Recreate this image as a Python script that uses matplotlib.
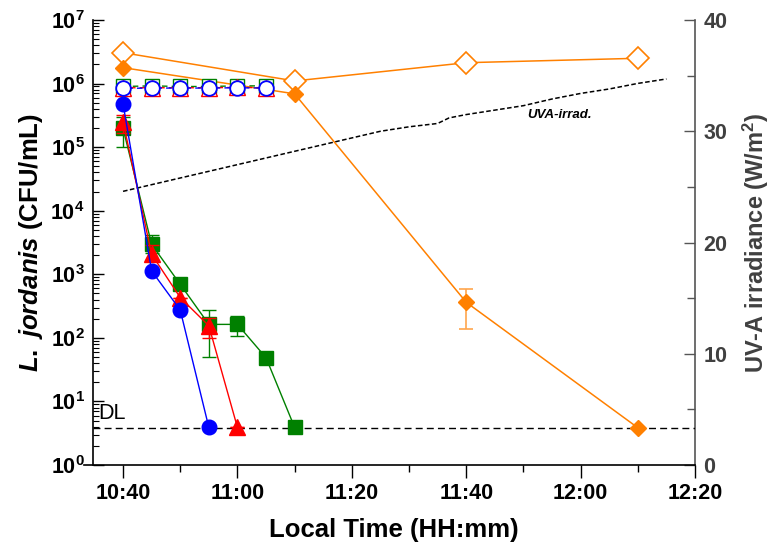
import matplotlib
matplotlib.use("Agg")
import matplotlib.pyplot as plt
from matplotlib.ticker import FixedLocator, FuncFormatter, LogLocator, NullFormatter, MultipleLocator
import numpy as np

plt.rcParams['font.family'] = ['Liberation Sans', 'DejaVu Sans']
plt.rcParams['mathtext.fontset'] = 'custom'
plt.rcParams['mathtext.rm'] = 'Liberation Sans:bold'
plt.rcParams['mathtext.it'] = 'Liberation Sans:italic:bold'
plt.rcParams['mathtext.bf'] = 'Liberation Sans:bold'

# ---------------- data ----------------
t_open = ["10:40", "10:45", "10:50", "10:55", "11:00", "11:05"]
green_open = [9.0e5, 9.2e5, 9.0e5, 9.0e5, 9.2e5, 9.2e5]
red_open = [8.6e5, 8.6e5, 8.6e5, 8.6e5, 8.7e5, 8.6e5]
blue_open = [8.4e5, 8.5e5, 8.5e5, 8.5e5, 8.6e5, 8.5e5]

t_blue = ["10:40", "10:45", "10:50", "10:55"]
blue_fill = [4.8e5, 1.13e3, 2.74e2, 3.9]

t_red = ["10:40", "10:45", "10:50", "10:55", "11:00"]
red_fill = [2.5e5, 2.06e3, 4.3e2, 1.55e2, 3.9]
red_lo = [1.66e5, 1.66e3, 4.3e2, 1.0e2, 3.9]
red_hi = [3.2e5, 2.9e3, 4.3e2, 2.04e2, 3.9]

t_green = ["10:40", "10:45", "10:50", "10:55", "11:00", "11:05", "11:10"]
green_fill = [1.98e5, 2.95e3, 6.95e2, 1.63e2, 1.63e2, 48.7, 3.9]
green_lo = [1.0e5, 2.2e3, 6.95e2, 50, 108, 48.7, 3.9]
green_hi = [2.96e5, 4.2e3, 6.95e2, 276, 221, 48.7, 3.9]

t_orange = ["10:40", "11:10", "11:40", "12:10"]
orange_open = [3.06e6, 1.1e6, 2.13e6, 2.5e6]
orange_fill = [1.78e6, 6.9e5, 3.63e2, 3.86]
orange_lo = [1.78e6, 6.9e5, 138, 3.86]
orange_hi = [1.78e6, 6.9e5, 581, 3.86]

t_uva = ["10:40", "10:45", "10:50", "10:55", "11:00", "11:05", "11:10", "11:15",
         "11:20", "11:25", "11:30", "11:35", "11:37", "11:40", "11:45", "11:50",
         "11:55", "12:00", "12:05", "12:10", "12:15"]
uva = [24.6, 25.2, 25.8, 26.4, 27.0, 27.6, 28.2, 28.8,
       29.4, 30.0, 30.4, 30.7, 31.2, 31.5, 31.9, 32.3,
       32.9, 33.4, 33.8, 34.3, 34.7]

DL = 3.8
x_ticks = ["10:40", "11:00", "11:20", "11:40", "12:00", "12:20"]

T0 = 10 * 60 + 40


def mins(ts):
    return np.array([int(s.split(":")[0]) * 60 + int(s.split(":")[1]) - T0 for s in ts], float)


def fmt_time(v, pos=None):
    m = int(round(v)) + T0
    return "%d:%02d" % (m // 60, m % 60)


# ---------------- figure ----------------
fig = plt.figure(figsize=(7.79, 5.54), dpi=100)
ax = fig.add_axes([0.1194, 0.1606, 0.7728, 0.8033])
ax2 = ax.twinx()
ax.set_zorder(2)
ax.patch.set_visible(False)

ORANGE = "#ff8000"
BLUE = "#0000ff"
RED = "#ff0000"
GREEN = "#008000"

# detection limit
ax.axhline(DL, color="black", lw=1.0, ls=(0, (5, 3)), zorder=1)
ax.text(-4.3, 4.4, "DL", fontsize=15.5, ha="left", va="bottom")

# orange series
ax.plot(mins(t_orange), orange_open, color=ORANGE, lw=1.1, marker="D", ms=11,
        mfc="white", mec=ORANGE, mew=1.2, zorder=3)
of = np.array(orange_fill)
ax.errorbar(mins(t_orange), orange_fill,
            yerr=[of - np.array(orange_lo), np.array(orange_hi) - of],
            color=ORANGE, lw=1.1, marker="D", ms=8.5, mfc=ORANGE, mec=ORANGE,
            ecolor="#ffa64d", elinewidth=1.2, capsize=5, capthick=1.2, zorder=3)

# open series (dashed)
ax.plot(mins(t_open), green_open, color=GREEN, lw=1.0, ls=(0, (4, 3)), marker="s", ms=10,
        mfc="white", mec=GREEN, mew=1.0, zorder=4)
ax.plot(mins(t_open), red_open, color=RED, lw=1.0, ls=(2, (4, 3)), marker="^", ms=11,
        mfc="white", mec=RED, mew=1.0, zorder=5)
ax.plot(mins(t_open), blue_open, color=BLUE, lw=1.0, ls=(4, (4, 3)), marker="o", ms=10.5,
        mfc="white", mec=BLUE, mew=1.3, zorder=6)

# filled series
gf = np.array(green_fill)
ax.errorbar(mins(t_green), green_fill,
            yerr=[gf - np.array(green_lo), np.array(green_hi) - gf],
            color=GREEN, lw=1.0, marker="s", ms=9.5, mfc=GREEN, mec=GREEN,
            ecolor=GREEN, elinewidth=1.0, capsize=5, capthick=1.0, zorder=7)
rf = np.array(red_fill)
ax.errorbar(mins(t_red), red_fill,
            yerr=[rf - np.array(red_lo), np.array(red_hi) - rf],
            color=RED, lw=1.0, marker="^", ms=11.5, mfc=RED, mec=RED,
            ecolor=RED, elinewidth=1.0, capsize=5, capthick=1.0, zorder=8)
ax.plot(mins(t_blue), blue_fill, color=BLUE, lw=1.0, marker="o", ms=10.5,
        mfc=BLUE, mec=BLUE, zorder=9)

# UVA irradiance
ax2.plot(mins(t_uva), uva, color="black", lw=1.1, ls=(0, (3, 1.6)), zorder=2)
ax2.text(70.6, 31.5, "UVA-irrad.", fontsize=9.5, fontweight="bold", fontstyle="italic",
         ha="left", va="center")

# ---------------- axes styling ----------------
ax.set_yscale("log")
ax.set_ylim(1, 1e7)
ax.set_xlim(-5.25, 100)
ax2.set_ylim(0, 40)

ax.yaxis.set_major_locator(LogLocator(base=10, numticks=20))
ax.yaxis.set_minor_locator(LogLocator(base=10, subs=np.arange(2, 10), numticks=20))
ax.yaxis.set_minor_formatter(NullFormatter())
ax.yaxis.set_major_formatter(FuncFormatter(lambda v, p: r"$\mathdefault{10^{%d}}$" % int(round(np.log10(v)))))

ax.xaxis.set_major_locator(FixedLocator(mins(x_ticks)))
ax.xaxis.set_minor_locator(MultipleLocator(10))
ax.xaxis.set_major_formatter(FuncFormatter(fmt_time))

ax.tick_params(axis="y", which="major", direction="in", length=8, width=1.0, labelsize=15.5, pad=6)
ax.tick_params(axis="y", which="minor", direction="in", length=4, width=0.8)
ax.tick_params(axis="x", which="major", direction="out", length=9, width=1.0, labelsize=15.5, pad=4)
ax.tick_params(axis="x", which="minor", direction="out", length=5, width=1.0)
for lab in ax.get_xticklabels() + ax.get_yticklabels():
    lab.set_fontweight("bold")

ax.spines["top"].set_visible(False)
ax.spines["right"].set_visible(False)
ax.spines["left"].set_linewidth(1.2)
ax.spines["bottom"].set_linewidth(1.2)
ax.spines["bottom"].set_bounds(-6.8, 100)

GRAY = "#555555"
ax2.spines["top"].set_visible(False)
ax2.spines["left"].set_visible(False)
ax2.spines["bottom"].set_visible(False)
ax2.spines["right"].set_color(GRAY)
ax2.spines["right"].set_linewidth(1.2)
ax2.yaxis.set_major_locator(MultipleLocator(10))
ax2.yaxis.set_minor_locator(MultipleLocator(5))
ax2.tick_params(axis="y", which="major", direction="in", length=8, width=1.0, colors=GRAY,
                labelsize=15.5, labelcolor="#404040", pad=6)
ax2.tick_params(axis="y", which="minor", direction="in", length=6, width=1.0, colors=GRAY)
for lab in ax2.get_yticklabels():
    lab.set_fontweight("bold")

ax.set_xlabel("Local Time (HH:mm)", fontsize=18.5, fontweight="bold", labelpad=10)
ax.set_ylabel(r"$\mathit{L.\ jordanis}$ (CFU/mL)", fontsize=18.5, fontweight="bold", labelpad=4)
ax2.set_ylabel(r"UV-A irradiance (W/m$^{\mathbf{2}}$)", fontsize=17, fontweight="bold",
               color="#404040", labelpad=10)

fig.savefig("out.png", dpi=100)
